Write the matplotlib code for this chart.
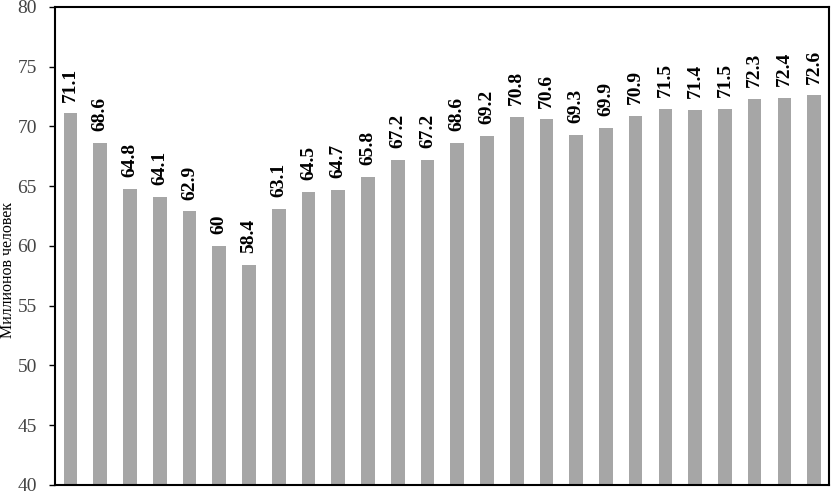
import matplotlib
matplotlib.use("Agg")
import matplotlib.pyplot as plt
import numpy as np

values = [71.1, 68.6, 64.8, 64.1, 62.9, 60, 58.4, 63.1, 64.5, 64.7, 65.8, 67.2, 67.2,
          68.6, 69.2, 70.8, 70.6, 69.3, 69.9, 70.9, 71.5, 71.4, 71.5, 72.3, 72.4, 72.6]
labels = ["71.1", "68.6", "64.8", "64.1", "62.9", "60", "58.4", "63.1", "64.5", "64.7",
          "65.8", "67.2", "67.2", "68.6", "69.2", "70.8", "70.6", "69.3", "69.9", "70.9",
          "71.5", "71.4", "71.5", "72.3", "72.4", "72.6"]
yticks = [40, 45, 50, 55, 60, 65, 70, 75, 80]
ylabel = "Миллионов человек"

plt.rcParams['font.family'] = ['Liberation Serif', 'DejaVu Serif']

fig = plt.figure(figsize=(8.31, 4.92), dpi=100)
ax = fig.add_axes([55/831, 7/492, (829-55)/831, (485-7)/492])

x = np.arange(len(values))
ax.bar(x, values, width=0.46, color='#a6a6a6', bottom=0)
for xi, v, lab in zip(x, values, labels):
    ax.annotate(lab, (xi, v), xytext=(0, 8.5), textcoords='offset points',
                rotation=90, ha='center', va='bottom', fontsize=14,
                fontweight='bold', color='black')

ax.set_ylim(40, 80)
ax.set_xlim(-0.52, len(values) - 0.5)
ax.set_yticks(yticks)
ax.set_yticklabels([str(t) for t in yticks], fontsize=14)
ax.tick_params(axis='y', direction='out', length=4, width=1, pad=9, colors='black', labelcolor='#444444')
ax.set_xticks([])
for s in ax.spines.values():
    s.set_linewidth(1.5)
    s.set_color('black')
ax.set_ylabel(ylabel, fontsize=11.5)
ax.yaxis.set_label_coords(-0.051, 0.45)

fig.savefig("out.png", dpi=100)
